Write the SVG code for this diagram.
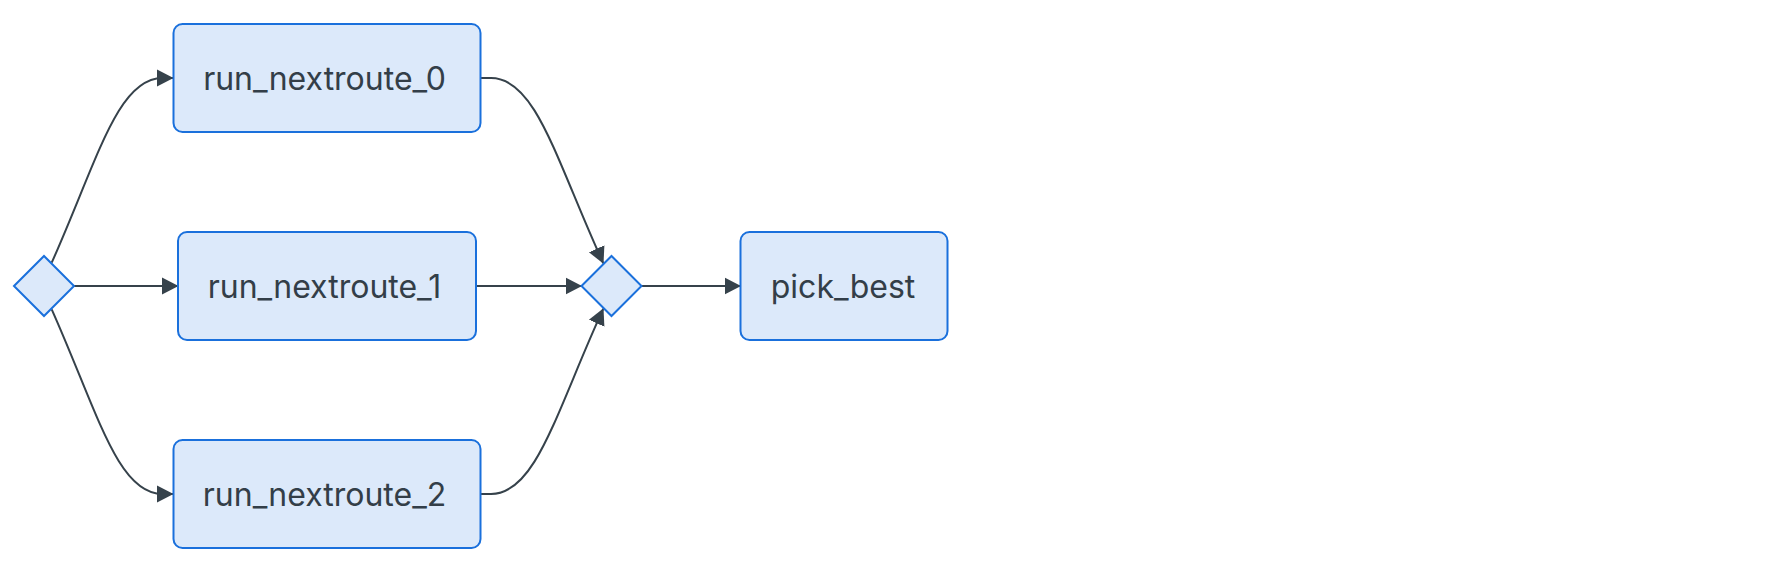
<svg xmlns="http://www.w3.org/2000/svg" width="1770" height="576" viewBox="0 0 1770 576">
<style>
.node rect, .node polygon { fill: #dce9fa; stroke: #1a70dc; stroke-width: 2; }
.node text { font-family: Inter, "Noto Sans", "Liberation Sans", sans-serif; font-size: 32px; fill: #333e48; text-anchor: middle; }
.edge { fill: none; stroke: #36424b; stroke-width: 2; marker-end: url(#arrow); }
</style>
<defs>
<marker id="arrow" markerUnits="userSpaceOnUse" markerWidth="17" markerHeight="19" viewBox="0 0 17 19" refX="16" refY="9.5" orient="auto">
<path d="M0,1 L16.5,9.5 L0,18 Z" fill="#36424b"/>
</marker>
</defs>
<rect width="1770" height="576" fill="#ffffff"/>
<g id="connectors">
<path class="edge" d="M51.7,262.7 C97.5,160 117.5,78 162.5,78 L173,78"/>
<path class="edge" d="M74,286 L178,286"/>
<path class="edge" d="M51.7,309.3 C97.5,412 117.5,494 162.5,494 L173,494"/>
<path class="edge" d="M480.5,78 L491,78 C536,78 556,160 603.3,263.3"/>
<path class="edge" d="M476,286 L581.5,286"/>
<path class="edge" d="M480.5,494 L491,494 C536,494 556,412 603.3,308.7"/>
<path class="edge" d="M641.5,286 L740.5,286"/>
</g>
<g id="fork" class="node">
<polygon points="14,286 44,256 74,286 44,316"/>
</g>
<g id="run_nextroute_0" class="node">
<rect x="173.5" y="24" width="307" height="108" rx="9"/>
<text x="324.5" y="89.8">run_nextroute_0</text>
</g>
<g id="run_nextroute_1" class="node">
<rect x="178" y="232" width="298" height="108" rx="9"/>
<text x="324.5" y="297.8">run_nextroute_1</text>
</g>
<g id="run_nextroute_2" class="node">
<rect x="173.5" y="440" width="307" height="108" rx="9"/>
<text x="324.5" y="505.8">run_nextroute_2</text>
</g>
<g id="join" class="node">
<polygon points="581.5,286 611.5,256 641.5,286 611.5,316"/>
</g>
<g id="pick_best" class="node">
<rect x="740.5" y="232" width="207" height="108" rx="9"/>
<text x="843" y="297.8">pick_best</text>
</g>
</svg>
